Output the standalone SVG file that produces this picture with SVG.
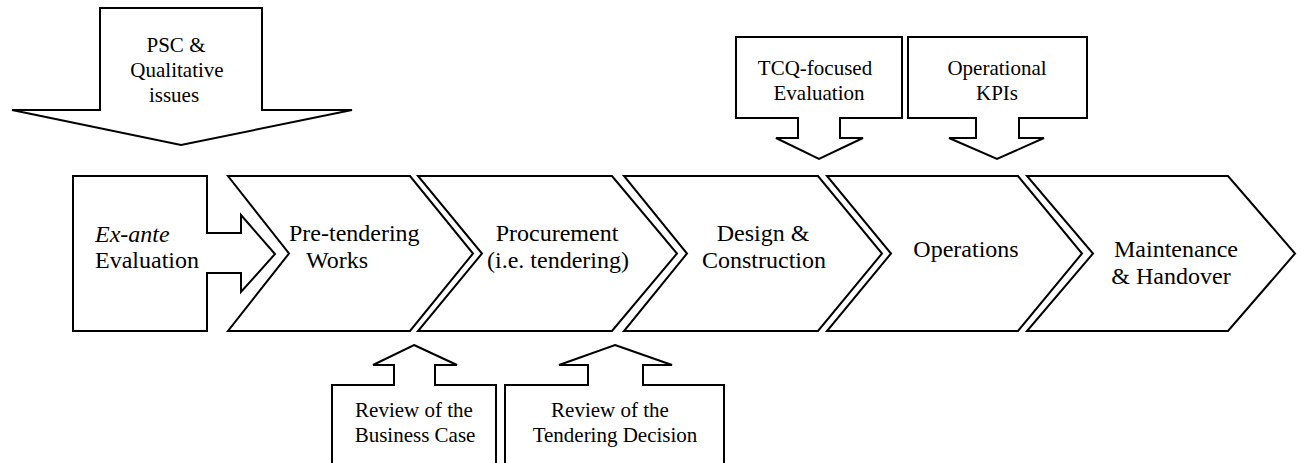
<svg xmlns="http://www.w3.org/2000/svg" width="1310" height="463" viewBox="0 0 1310 463">
<style>
.s{fill:#fff;stroke:#000;stroke-width:2;stroke-linejoin:miter}
.t{font-family:'Liberation Serif','Times New Roman',serif;font-size:24px;fill:#000}
.c{font-family:'Liberation Serif','Times New Roman',serif;font-size:21px;fill:#000}
.m{text-anchor:middle}
</style>
<rect width="1310" height="463" fill="#fff"/>
<g id="connectors">
<g id="psc"><path class="s" d="M100,8 L262,8 L262,110 L352,110 L181,145 L12,110 L100,110 Z"/>
<text class="c m" x="176" y="52">PSC &amp;</text><text class="c m" x="177" y="77">Qualitative</text><text class="c m" x="174" y="102">issues</text></g>
<g id="tcq"><path class="s" d="M736,37 L902,37 L902,118 L840,118 L840,138 L863,138 L819,159 L776,138 L798,138 L798,118 L736,118 Z"/>
<text class="c m" x="815" y="75">TCQ-focused</text><text class="c m" x="819" y="100">Evaluation</text></g>
<g id="kpi"><path class="s" d="M908,37 L1087,37 L1087,118 L1019,118 L1019,138 L1044,138 L997,159 L949,138 L976,138 L976,118 L908,118 Z"/>
<text class="c m" x="997" y="75">Operational</text><text class="c m" x="997" y="100">KPIs</text></g>
<g id="business"><path class="s" d="M414,345 L457,365 L435,365 L435,385 L496,385 L496,470 L332,470 L332,385 L394,385 L394,365 L373,365 Z"/>
<text class="c m" x="414" y="417">Review of the</text><text class="c m" x="415" y="442">Business Case</text></g>
<g id="tendering"><path class="s" d="M615,345 L672,365 L643,365 L643,385 L724,385 L724,470 L505,470 L505,385 L588,385 L588,365 L559,365 Z"/>
<text class="c m" x="610" y="417">Review of the</text><text class="c m" x="615" y="442">Tendering Decision</text></g>
</g>
<g id="exante"><path class="s" d="M73,176 L207,176 L207,233 L241,233 L241,215 L275,254 L241,292 L241,273 L207,273 L207,331 L73,331 Z"/>
<text class="t" x="95" y="242" font-style="italic">Ex-ante</text><text class="t" x="95" y="268">Evaluation</text></g>
<g id="pretendering"><path class="s" d="M228,176 L410,176 L473,253.5 L410,331 L228,331 L289,253.5 Z"/>
<text class="t" x="289" y="241">Pre-tendering</text><text class="t" x="306" y="268">Works</text></g>
<g id="procurement"><path class="s" d="M418,176 L612,176 L677,253.5 L612,331 L418,331 L482,253.5 Z"/>
<text class="t m" x="557" y="241">Procurement</text><text class="t m" x="558" y="268">(i.e. tendering)</text></g>
<g id="design"><path class="s" d="M624,176 L818,176 L882,253.5 L818,331 L624,331 L687,253.5 Z"/>
<text class="t m" x="763" y="241">Design &amp;</text><text class="t m" x="764" y="268">Construction</text></g>
<g id="operations"><path class="s" d="M827,176 L1018,176 L1082,253.5 L1018,331 L827,331 L891,253.5 Z"/>
<text class="t m" x="966" y="257">Operations</text></g>
<g id="maintenance"><path class="s" d="M1027,176 L1228,176 L1295,253.5 L1228,331 L1027,331 L1093,253.5 Z"/>
<text class="t m" x="1176" y="257">Maintenance</text><text class="t m" x="1171" y="284">&amp; Handover</text></g>
</svg>
